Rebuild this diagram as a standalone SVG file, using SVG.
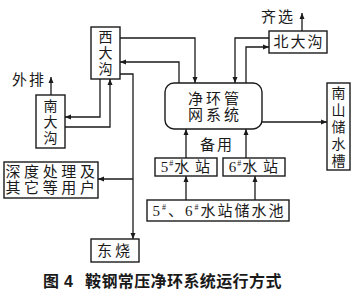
<svg xmlns="http://www.w3.org/2000/svg" width="359" height="299" viewBox="0 0 359 299">
<style>
.box{fill:#fff;stroke:#1a1a1a;stroke-width:1.4}
.ln{fill:none;stroke:#1a1a1a;stroke-width:1.3}
.t{font-family:"Liberation Serif","Noto Sans CJK SC",serif;font-size:15px;fill:#1a1a1a;text-anchor:middle;dominant-baseline:central}
.v{font-size:14px}
.cap{font-family:"Liberation Sans","Noto Sans CJK SC",sans-serif;font-size:16px;font-weight:bold;fill:#1a1a1a}
</style>
<defs>
<marker id="a" markerUnits="userSpaceOnUse" markerWidth="7" markerHeight="6" refX="6" refY="3" orient="auto">
<path d="M0,0.5 L6,3 L0,5.5 Z" fill="#1a1a1a"/>
</marker>
</defs>
<rect width="359" height="299" fill="#fff"/>
<g id="connectors">
<path class="ln" d="M120,38 H195 V83" marker-end="url(#a)"/>
<path class="ln" d="M179,83 V62 H120" marker-end="url(#a)"/>
<path class="ln" d="M120,74 H133 V239" marker-end="url(#a)"/>
<path class="ln" d="M133,179 H98" marker-end="url(#a)"/>
<path class="ln" d="M100,79 V117 H65" marker-end="url(#a)"/>
<path class="ln" d="M65,127 H110 V79" marker-end="url(#a)"/>
<path class="ln" d="M51,95 V77" marker-end="url(#a)"/>
<path class="ln" d="M302,31 V13" marker-end="url(#a)"/>
<path class="ln" d="M269,38 H235 V83" marker-end="url(#a)"/>
<path class="ln" d="M246,83 V47 H269" marker-end="url(#a)"/>
<path class="ln" d="M261,122 H327" marker-end="url(#a)"/>
<path class="ln" d="M186,158 V129" marker-end="url(#a)"/>
<path class="ln" d="M246,158 V129" marker-end="url(#a)"/>
<path class="ln" d="M186,200 V176" marker-end="url(#a)"/>
<path class="ln" d="M255,200 V176" marker-end="url(#a)"/>
</g>
<g id="xidagou">
<rect class="box" x="91" y="27" width="29" height="52"/>
<text class="t v"><tspan x="105.5" y="37">西</tspan><tspan x="105.5" y="53">大</tspan><tspan x="105.5" y="69">沟</tspan></text>
</g>
<g id="nandagou">
<rect class="box" x="36" y="95" width="29" height="53"/>
<text class="t v"><tspan x="50.5" y="105.5">南</tspan><tspan x="50.5" y="121.5">大</tspan><tspan x="50.5" y="137.5">沟</tspan></text>
</g>
<g id="waipai">
<text class="t" x="29" y="80" letter-spacing="2">外排</text>
</g>
<g id="qixuan">
<text class="t" x="278" y="17" letter-spacing="2">齐选</text>
</g>
<g id="beidagou">
<rect class="box" x="269" y="31" width="58" height="22"/>
<text class="t" x="299" y="42" letter-spacing="2">北大沟</text>
</g>
<g id="pipe">
<rect class="box" x="165" y="83" width="97" height="46" rx="9"/>
<text class="t" font-size="14" letter-spacing="3"><tspan x="215" y="99">净环管</tspan><tspan x="215" y="115">网系统</tspan></text>
</g>
<g id="nanshan">
<rect class="box" x="327" y="83" width="23" height="87"/>
<text class="t v"><tspan x="338.5" y="93">南</tspan><tspan x="338.5" y="110">山</tspan><tspan x="338.5" y="127">储</tspan><tspan x="338.5" y="144">水</tspan><tspan x="338.5" y="161">槽</tspan></text>
</g>
<g id="beiyong">
<text class="t" x="217" y="145" letter-spacing="2">备用</text>
</g>
<g id="st5">
<rect class="box" x="155" y="158" width="62" height="18"/>
<text class="t" x="186" y="167" letter-spacing="1">5<tspan font-size="8" dy="-4">#</tspan><tspan dy="4">水 站</tspan></text>
</g>
<g id="st6">
<rect class="box" x="223" y="158" width="62" height="18"/>
<text class="t" x="254" y="167" letter-spacing="1">6<tspan font-size="8" dy="-4">#</tspan><tspan dy="4">水 站</tspan></text>
</g>
<g id="pool">
<rect class="box" x="147" y="200" width="142" height="21"/>
<text class="t" x="219" y="210.5" letter-spacing="2">5<tspan font-size="8" dy="-4">#</tspan><tspan dy="4">、6</tspan><tspan font-size="8" dy="-4">#</tspan><tspan dy="4">水站储水池</tspan></text>
</g>
<g id="shendu">
<rect class="box" x="4" y="162" width="94" height="36"/>
<text class="t" font-size="14" letter-spacing="3.6"><tspan x="52" y="172">深度处理及</tspan><tspan x="52" y="188">其它等用户</tspan></text>
</g>
<g id="dongshao">
<rect class="box" x="91" y="239" width="48" height="23"/>
<text class="t" x="115" y="250.5" letter-spacing="3">东烧</text>
</g>
<g id="caption">
<text class="cap" x="43" y="287">图</text>
<text class="cap" x="64" y="287">4</text>
<text class="cap" x="85" y="287" letter-spacing="0.4">鞍钢常压净环系统运行方式</text>
</g>
</svg>
